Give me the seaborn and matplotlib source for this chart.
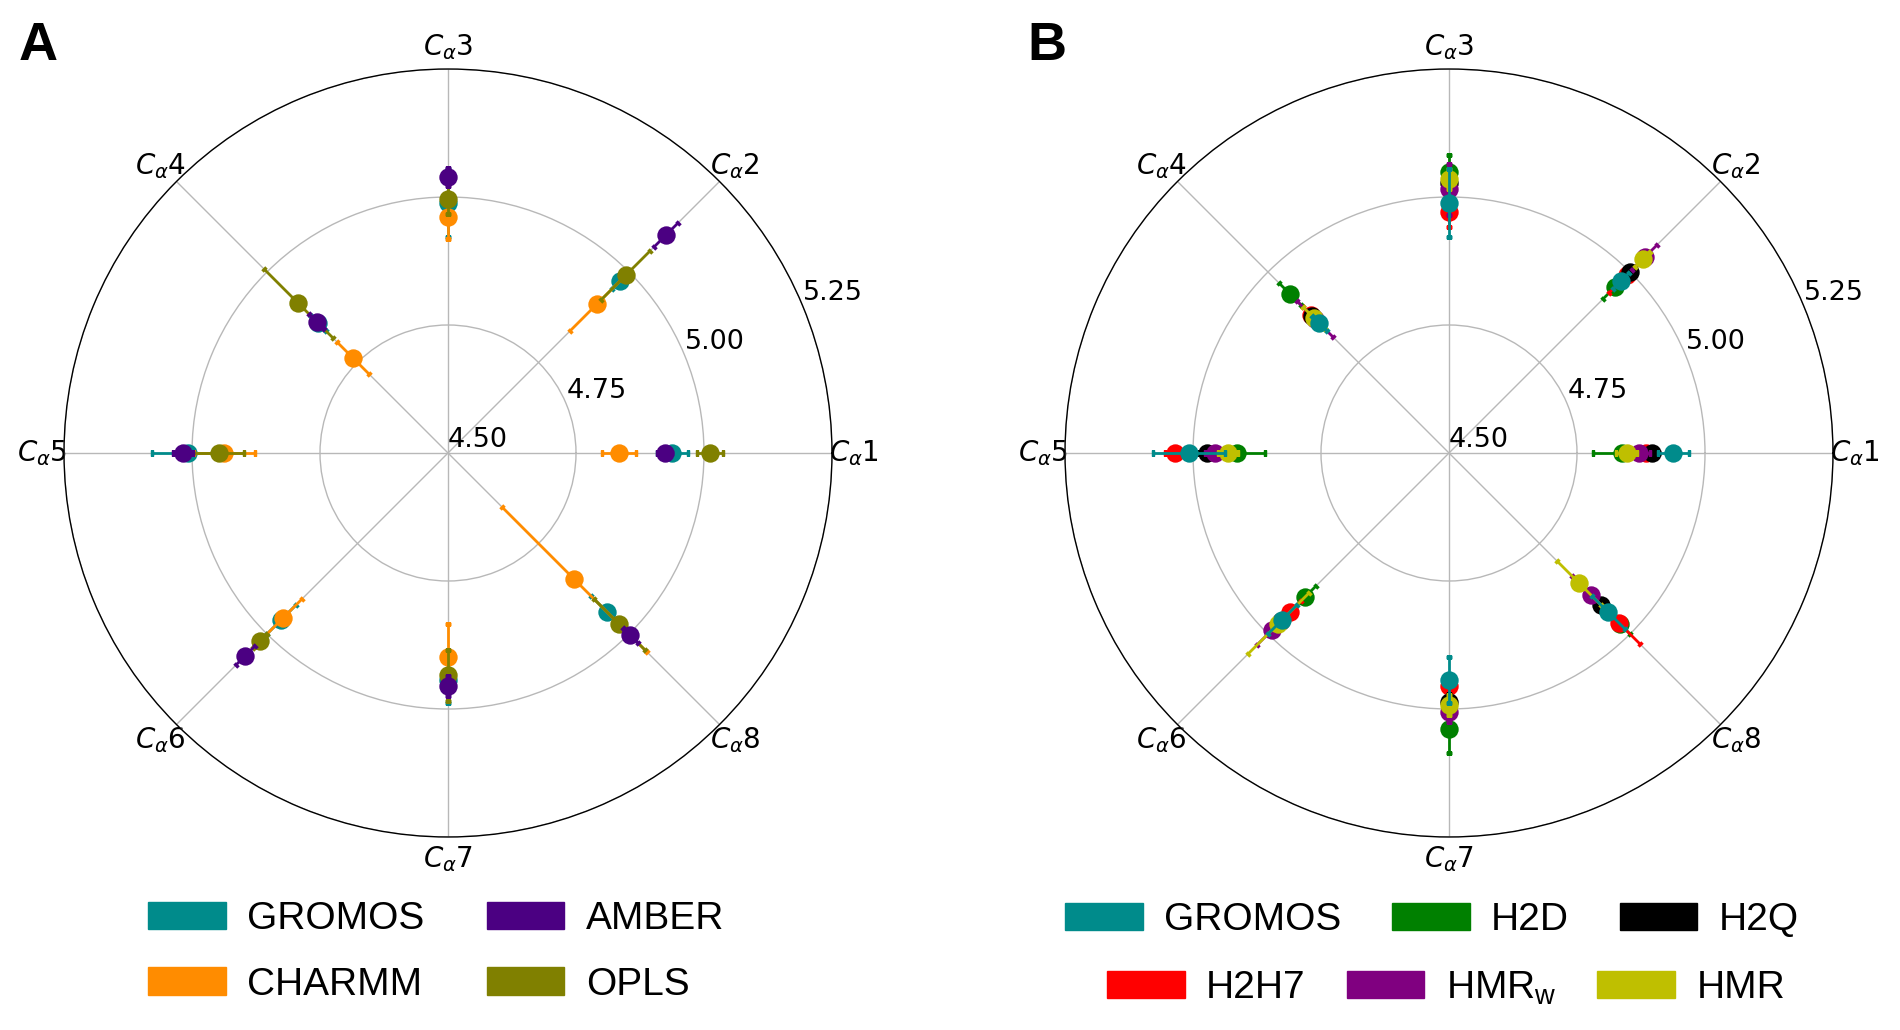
import numpy as np
import pandas as pd
import matplotlib
matplotlib.use("Agg")
import matplotlib.pyplot as plt
import seaborn as sns
from matplotlib.patches import Patch

# ---------------- data ----------------
site_labels = [r"$C_\alpha$1", r"$C_\alpha$2", r"$C_\alpha$3", r"$C_\alpha$4",
               r"$C_\alpha$5", r"$C_\alpha$6", r"$C_\alpha$7", r"$C_\alpha$8"]
site_angles_deg = [0, 45, 90, 135, 180, 225, 270, 315]
r_ticks = [4.50, 4.75, 5.00, 5.25]

gromos = [4.938, 4.976, 4.988, 4.858, 5.008, 4.960, 4.943, 4.940]
gromos_err = [0.030, 0.022, 0.067, 0.020, 0.070, 0.040, 0.045, 0.046]

charmm = [4.834, 4.912, 4.961, 4.762, 4.937, 4.955, 4.899, 4.849]
charmm_err = [0.034, 0.076, 0.043, 0.045, 0.060, 0.053, 0.065, 0.200]
amber = [4.923, 5.101, 5.039, 4.863, 5.018, 5.060, 4.955, 5.004]
amber_err = [0.015, 0.033, 0.018, 0.020, 0.020, 0.026, 0.020, 0.020]
opls = [5.012, 4.991, 4.996, 4.914, 4.948, 5.019, 4.934, 4.973]
opls_err = [0.025, 0.068, 0.030, 0.095, 0.050, 0.020, 0.050, 0.070]

h2d = [4.837, 4.959, 5.049, 4.940, 4.915, 4.899, 5.040, 4.971]
h2d_err = [0.055, 0.033, 0.033, 0.030, 0.055, 0.032, 0.045, 0.030]
h2h7 = [4.885, 4.991, 4.971, 4.882, 5.035, 4.940, 4.955, 4.970]
h2h7_err = [0.020, 0.050, 0.030, 0.020, 0.020, 0.030, 0.020, 0.058]
h2q = [4.896, 5.000, 5.027, 4.878, 4.973, 4.965, 4.986, 4.921]
h2q_err = [0.015, 0.015, 0.015, 0.015, 0.015, 0.015, 0.015, 0.015]
hmrw = [4.872, 5.040, 5.015, 4.870, 4.957, 4.990, 5.005, 4.891]
hmrw_err = [0.020, 0.035, 0.050, 0.050, 0.020, 0.040, 0.020, 0.050]
hmr = [4.847, 5.035, 5.035, 4.873, 4.932, 4.971, 4.992, 4.860]
hmr_err = [0.020, 0.020, 0.020, 0.030, 0.020, 0.085, 0.020, 0.061]

# series: (name, values, errors, colour) in drawing order
series_A = [("GROMOS", gromos, gromos_err, "#008B8B"),
            ("CHARMM", charmm, charmm_err, "#FF8C00"),
            ("OPLS", opls, opls_err, "#808000"),
            ("AMBER", amber, amber_err, "#4B0082")]
legend_A = ["GROMOS", "CHARMM", "AMBER", "OPLS"]

series_B = [("H2D", h2d, h2d_err, "#008000"),
            ("H2H7", h2h7, h2h7_err, "#FF0000"),
            ("H2Q", h2q, h2q_err, "#000000"),
            ("HMR$_\\mathregular{w}$", hmrw, hmrw_err, "#800080"),
            ("HMR", hmr, hmr_err, "#BFBF00"),
            ("GROMOS", gromos, gromos_err, "#008B8B")]
legend_B_row1 = ["GROMOS", "H2D", "H2Q"]
legend_B_row2 = ["H2H7", "HMR$_\\mathregular{w}$", "HMR"]

# ---------------- style ----------------
sns.set_theme(style="white")
plt.rcParams["font.family"] = ["DejaVu Sans"]
plt.rcParams["mathtext.fontset"] = "dejavusans"
for key in ["text.color", "axes.labelcolor", "xtick.color", "ytick.color"]:
    plt.rcParams[key] = "black"

W, H = 1900, 1030
fig = plt.figure(figsize=(W / 100, H / 100), dpi=100)

R = 384
centers = [(448, 453), (1449, 453)]


def make_axes(cx, cy):
    ax = fig.add_axes([(cx - R) / W, (H - cy - R) / H, 2 * R / W, 2 * R / H],
                      projection="polar")
    return ax


def draw_panel(ax, series):
    theta = np.deg2rad(site_angles_deg)
    for i, (name, vals, errs, col) in enumerate(series):
        ax.errorbar(theta, vals, yerr=errs, fmt="none", ecolor=col,
                    elinewidth=2.0, capsize=2.5, capthick=2.5, zorder=3 + 2 * i)
        df = pd.DataFrame({"theta": theta, "r": vals})
        sns.scatterplot(data=df, x="theta", y="r", ax=ax, color=col, s=175,
                        linewidth=0, zorder=4 + 2 * i, legend=False)
    ax.set_xlabel("")
    ax.set_ylabel("")
    ax.set_ylim(r_ticks[0], r_ticks[-1])
    ax.set_yticks(r_ticks)
    ax.set_yticklabels([f"{t:.2f}" for t in r_ticks])
    ax.set_rlabel_position(22.5)
    ax.set_xticks(np.deg2rad(site_angles_deg))
    ax.set_xticklabels(site_labels)
    ax.tick_params(axis="y", labelsize=19.5, colors="black")
    ax.tick_params(axis="x", labelsize=20, colors="black", pad=3)
    ax.grid(True, color="#b8b8b8", linewidth=1.0)
    ax.spines["polar"].set_color("black")
    ax.spines["polar"].set_linewidth(1.0)
    ax.set_facecolor("white")


axA = make_axes(*centers[0])
draw_panel(axA, series_A)
axB = make_axes(*centers[1])
draw_panel(axB, series_B)

# ---------------- legends ----------------
colour_of = {}
for name, _, _, col in series_A + series_B:
    colour_of[name] = col

leg_kw = dict(frameon=False, handlelength=2.0, handleheight=0.7,
              handletextpad=0.55, borderpad=0.0, borderaxespad=0.0,
              labelcolor="black",
              prop={"family": "Liberation Sans", "size": 28})


def add_legend(names, cx, cy, ncol, colsp, labelsp=0.6):
    handles = [Patch(facecolor=colour_of[n], edgecolor=colour_of[n]) for n in names]
    leg = fig.legend(handles, names, loc="center",
                     bbox_to_anchor=(cx / W, 1 - cy / H), ncol=ncol,
                     columnspacing=colsp, labelspacing=labelsp, **leg_kw)
    return leg


add_legend(legend_A, 436, 952, 2, 1.6, 0.75)
add_legend(legend_B_row1, 1432, 920, 3, 1.3)
add_legend(legend_B_row2, 1446, 988, 3, 1.05)

# ---------------- panel letters ----------------
fig.text(19 / W, 1 - 59.5 / H, "A", fontsize=39, fontweight="bold",
         family="Liberation Sans", color="black", ha="left", va="baseline")
fig.text(1027 / W, 1 - 59.5 / H, "B", fontsize=39, fontweight="bold",
         family="Liberation Sans", color="black", ha="left", va="baseline")

fig.savefig("out.png", dpi=100, facecolor="white")
